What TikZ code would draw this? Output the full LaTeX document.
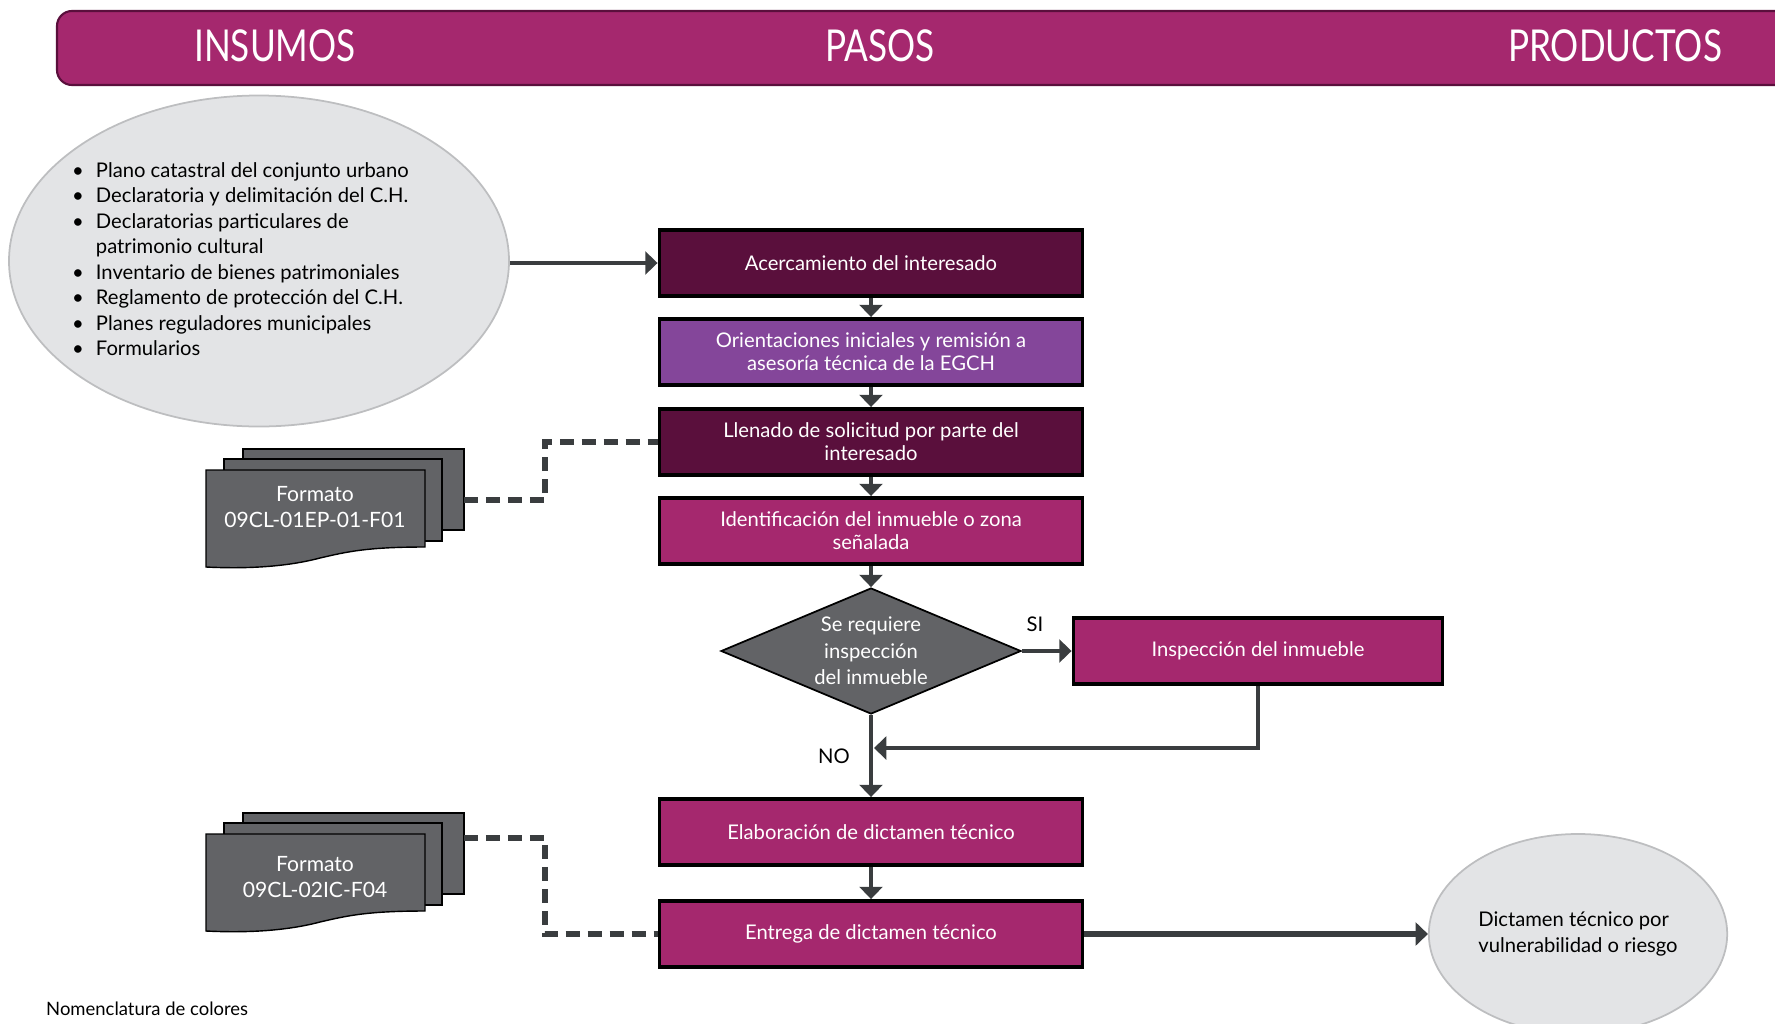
\documentclass[tikz,border=0pt]{standalone}
\usepackage{fontspec}
\setmainfont{Lato}
\newfontfamily\condensada[FakeStretch=0.8]{Lato}
\usetikzlibrary{arrows.meta,shapes.geometric}

\definecolor{colPaso}{HTML}{A5286E}
\definecolor{colOscuro}{HTML}{5A0F3C}
\definecolor{colMorado}{HTML}{84469A}
\definecolor{colGris}{HTML}{626366}
\definecolor{colFlecha}{HTML}{3A3D3F}
\definecolor{colElipse}{HTML}{E3E4E6}
\definecolor{colBorde}{HTML}{BDBEC0}

\newcommand{\vineta}{\makebox[13.5pt][l]{\textbullet}}
% pila de hojas, esquina de la hoja de frente en (#1,#2)
\newcommand{\pila}[2]{%
  \begin{scope}[shift={(#1,#2)}]
    \draw[hoja] (37,-21) rectangle (258,60); % hoja de atras
    \draw[hoja] (18,-11) rectangle (236,71); % hoja del medio
    \draw[hoja] (0,0) -- (219,0) -- (219,77)
      .. controls (160,77) and (140,82) .. (114,88)
      .. controls (80,97) and (40,99) .. (0,97) -- cycle; % hoja de frente
  \end{scope}}

\begin{document}
\begin{tikzpicture}[x=0.2mm,y=-0.2mm,
  paso/.style={draw=black,line width=2.2pt,text=white,minimum width=84.6mm,
    minimum height=13.2mm,align=center,font=\fontsize{11.5}{13}\selectfont},
  flecha/.style={draw=colFlecha,line width=2.8pt,-{Triangle[length=7pt,width=13pt]}},
  punteada/.style={draw=colFlecha,line width=3.4pt,dash pattern=on 8pt off 4.5pt},
  elipse/.style={ellipse,draw=colBorde,line width=1pt,fill=colElipse},
  hoja/.style={draw=black,line width=0.8pt,fill=colGris},
  titulo/.style={text=white,font=\condensada\fontsize{25}{28}\selectfont}]
  \clip (0,0) rectangle (1775,1023);
  % encabezado
  \draw[fill=colPaso,draw=colOscuro,line width=1.2pt,rounded corners=3mm]
    (57,11) rectangle (1820,85);
  \node[titulo] (insumos) at (275,46) {INSUMOS};
  \node[titulo] (pasos) at (880,46) {PASOS};
  \node[titulo] (productos) at (1615,46) {PRODUCTOS};
  % insumos
  \node[elipse,minimum width=100mm,minimum height=66.2mm] (entradas) at (259,261) {};
  \node[anchor=west,align=left,font=\fontsize{11.5}{14.5}\selectfont] (lista) at (66,259)
    {\vineta Plano catastral del conjunto urbano\\
     \vineta Declaratoria y delimitación del C.H.\\
     \vineta Declaratorias particulares de\\
     \makebox[13.5pt]{}patrimonio cultural\\
     \vineta Inventario de bienes patrimoniales\\
     \vineta Reglamento de protección del C.H.\\
     \vineta Planes reguladores municipales\\
     \vineta Formularios};
  % pasos
  \node[paso,fill=colOscuro] (acerc) at (871,263) {Acercamiento del interesado};
  \node[paso,fill=colMorado] (orient) at (871,352)
    {Orientaciones iniciales y remisión a\\asesoría técnica de la EGCH};
  \node[paso,fill=colOscuro] (llenado) at (871,442)
    {Llenado de solicitud por parte del\\interesado};
  \node[paso,fill=colPaso] (ident) at (871,531)
    {Identificación del inmueble o zona\\señalada};
  \node[diamond,aspect=2.4,draw=black,line width=1pt,fill=colGris,text=white,inner sep=0pt,
    minimum width=60mm,minimum height=25.2mm,align=center,
    font=\fontsize{11.5}{15}\selectfont] (decision) at (871,651)
    {Se requiere\\inspección\\del inmueble};
  \node[paso,fill=colPaso,minimum width=73.8mm] (insp) at (1258,651)
    {Inspección del inmueble};
  \node[paso,fill=colPaso] (elab) at (871,832) {Elaboración de dictamen técnico};
  \node[paso,fill=colPaso] (entrega) at (871,934) {Entrega de dictamen técnico};
  % producto
  \node[elipse,minimum width=58.8mm,minimum height=40mm,align=left,
    font=\fontsize{11.5}{14.5}\selectfont] (producto) at (1578,934)
    {Dictamen técnico por\\vulnerabilidad o riesgo};
  % formatos
  \pila{206}{470}
  \node[text=white,align=center,font=\fontsize{12}{14.5}\selectfont] (fmt1-txt) at (315,507)
    {Formato\\09CL-01EP-01-F01};
  \coordinate (fmt1) at (464,500);
  \pila{206}{834}
  \node[text=white,align=center,font=\fontsize{12}{14.5}\selectfont] (fmt2-txt) at (315,877)
    {Formato\\09CL-02IC-F04};
  \coordinate (fmt2) at (464,838);
  % flechas
  \draw[flecha] (entradas.east |- acerc) -- (acerc);
  \draw[flecha] (acerc) -- (orient);
  \draw[flecha] (orient) -- (llenado);
  \draw[flecha] (llenado) -- (ident);
  \draw[flecha] (ident) -- (decision);
  \draw[flecha] (decision.east) -- (decision.east -| insp.west);
  \node[font=\fontsize{11.5}{13}\selectfont] (si) at (1035,624) {SI};
  \coordinate (retorno) at (874,748);
  \draw[flecha] (insp.south) |- (retorno); % regreso de la inspeccion
  \node[font=\fontsize{11.5}{13}\selectfont] (no) at (834,756) {NO};
  \draw[flecha] (decision) -- (elab);
  \draw[flecha] (elab) -- (entrega);
  \draw[flecha,line width=3.6pt] (entrega) -- (producto);
  % lineas punteadas a los formatos
  \draw[punteada] (fmt1) -- ++(81,0) |- (llenado.west);
  \draw[punteada] (fmt2) -- ++(81,0) |- (entrega.west);
  \node[anchor=west,font=\fontsize{10.5}{12}\selectfont] (nomen) at (40,1009)
    {Nomenclatura de colores};
\end{tikzpicture}
\end{document}
